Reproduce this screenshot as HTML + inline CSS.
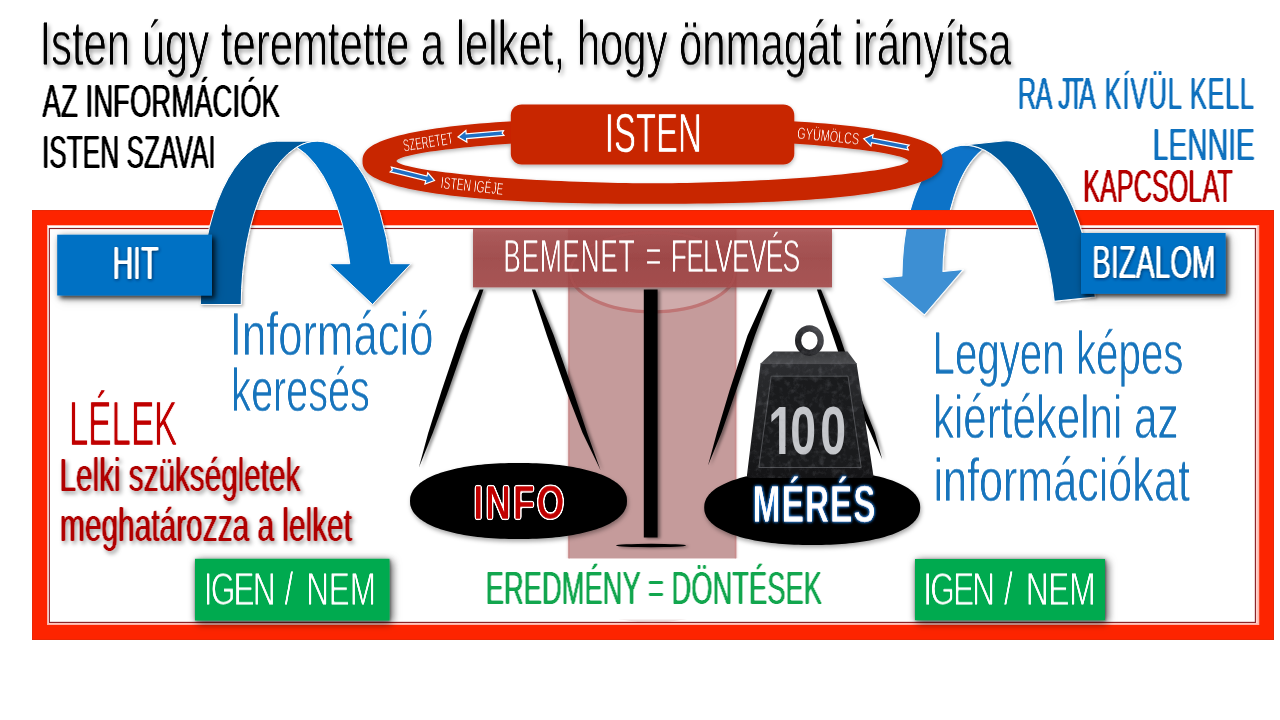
<!DOCTYPE html>
<html lang="hu">
<head>
<meta charset="utf-8">
<title>Isten úgy teremtette a lelket, hogy önmagát irányítsa</title>
<style>
html,body{margin:0;padding:0;background:#fff;}
body{width:1280px;height:720px;overflow:hidden;font-family:"Liberation Sans", sans-serif;}
svg{display:block;will-change:transform;}
text{white-space:pre;}
</style>
</head>
<body>
<svg width="1280" height="720" viewBox="0 0 1280 720" font-family='"Liberation Sans", sans-serif'>
<defs>
<filter id="tf_title" x="-5%" y="-20%" width="110%" height="140%" color-interpolation-filters="sRGB"><feConvolveMatrix in="SourceAlpha" order="1 3" kernelMatrix="0.45 1 0.45" divisor="1" bias="-0.9" preserveAlpha="false" result="a"/><feFlood flood-color="#000"/><feComposite operator="in" in2="a" result="f"/></filter>
<filter id="tf_azinf" x="-5%" y="-20%" width="110%" height="140%" color-interpolation-filters="sRGB"><feConvolveMatrix in="SourceAlpha" order="1 3" kernelMatrix="0.3 1 0.3" divisor="1" bias="-0.6" preserveAlpha="false" result="a"/><feConvolveMatrix in="a" order="3 1" kernelMatrix="0.55 1 0.55" divisor="1" preserveAlpha="false" result="b"/><feFlood flood-color="#000"/><feComposite operator="in" in2="b" result="f"/></filter>
<filter id="tf_szavai" x="-5%" y="-20%" width="110%" height="140%" color-interpolation-filters="sRGB"><feConvolveMatrix in="SourceAlpha" order="1 3" kernelMatrix="0.3 1 0.3" divisor="1" bias="-0.6" preserveAlpha="false" result="a"/><feConvolveMatrix in="a" order="3 1" kernelMatrix="0.55 1 0.55" divisor="1" preserveAlpha="false" result="b"/><feFlood flood-color="#000"/><feComposite operator="in" in2="b" result="f"/></filter>
<filter id="tf_rajta" x="-5%" y="-20%" width="110%" height="140%" color-interpolation-filters="sRGB"><feConvolveMatrix in="SourceAlpha" order="1 3" kernelMatrix="0.3 1 0.3" divisor="1" bias="-0.6" preserveAlpha="false" result="a"/><feConvolveMatrix in="a" order="3 1" kernelMatrix="0.5 1 0.5" divisor="1" preserveAlpha="false" result="b"/><feFlood flood-color="#0f71be"/><feComposite operator="in" in2="b" result="f"/></filter>
<filter id="tf_lennie" x="-5%" y="-20%" width="110%" height="140%" color-interpolation-filters="sRGB"><feConvolveMatrix in="SourceAlpha" order="1 3" kernelMatrix="0.3 1 0.3" divisor="1" bias="-0.6" preserveAlpha="false" result="a"/><feConvolveMatrix in="a" order="3 1" kernelMatrix="0.5 1 0.5" divisor="1" preserveAlpha="false" result="b"/><feFlood flood-color="#0f71be"/><feComposite operator="in" in2="b" result="f"/></filter>
<filter id="tf_kapcs" x="-5%" y="-20%" width="110%" height="140%" color-interpolation-filters="sRGB"><feConvolveMatrix in="SourceAlpha" order="1 3" kernelMatrix="0.3 1 0.3" divisor="1" bias="-0.6" preserveAlpha="false" result="a"/><feConvolveMatrix in="a" order="3 1" kernelMatrix="0.5 1 0.5" divisor="1" preserveAlpha="false" result="b"/><feFlood flood-color="#b40000"/><feComposite operator="in" in2="b" result="f"/></filter>
<filter id="tf_hit" x="-5%" y="-20%" width="110%" height="140%" color-interpolation-filters="sRGB"><feConvolveMatrix in="SourceAlpha" order="1 3" kernelMatrix="0.3 1 0.3" divisor="1" bias="-0.6" preserveAlpha="false" result="a"/><feConvolveMatrix in="a" order="3 1" kernelMatrix="0.55 1 0.55" divisor="1" preserveAlpha="false" result="b"/><feFlood flood-color="#fff"/><feComposite operator="in" in2="b" result="f"/></filter>
<filter id="tf_biz" x="-5%" y="-20%" width="110%" height="140%" color-interpolation-filters="sRGB"><feConvolveMatrix in="SourceAlpha" order="1 3" kernelMatrix="0.3 1 0.3" divisor="1" bias="-0.6" preserveAlpha="false" result="a"/><feConvolveMatrix in="a" order="3 1" kernelMatrix="0.5 1 0.5" divisor="1" preserveAlpha="false" result="b"/><feFlood flood-color="#fff"/><feComposite operator="in" in2="b" result="f"/></filter>
<filter id="tf_isten" x="-5%" y="-20%" width="110%" height="140%" color-interpolation-filters="sRGB"><feConvolveMatrix in="SourceAlpha" order="1 3" kernelMatrix="0.3 1 0.3" divisor="1" bias="-0.6" preserveAlpha="false" result="a"/><feConvolveMatrix in="a" order="3 1" kernelMatrix="0.1 1 0.1" divisor="1" preserveAlpha="false" result="b"/><feFlood flood-color="#fff"/><feComposite operator="in" in2="b" result="f"/></filter>
<filter id="tf_bemenet" x="-5%" y="-20%" width="110%" height="140%" color-interpolation-filters="sRGB"><feConvolveMatrix in="SourceAlpha" order="1 3" kernelMatrix="0.35 1 0.35" divisor="1" bias="-0.7" preserveAlpha="false" result="a"/><feFlood flood-color="#fff"/><feComposite operator="in" in2="a" result="f"/></filter>
<filter id="tf_inf1" x="-5%" y="-20%" width="110%" height="140%" color-interpolation-filters="sRGB"><feConvolveMatrix in="SourceAlpha" order="1 3" kernelMatrix="0.35 1 0.35" divisor="1" bias="-0.7" preserveAlpha="false" result="a"/><feFlood flood-color="#1774bc"/><feComposite operator="in" in2="a" result="f"/></filter>
<filter id="tf_inf2" x="-5%" y="-20%" width="110%" height="140%" color-interpolation-filters="sRGB"><feConvolveMatrix in="SourceAlpha" order="1 3" kernelMatrix="0.35 1 0.35" divisor="1" bias="-0.7" preserveAlpha="false" result="a"/><feFlood flood-color="#1774bc"/><feComposite operator="in" in2="a" result="f"/></filter>
<filter id="tf_lelek" x="-5%" y="-20%" width="110%" height="140%" color-interpolation-filters="sRGB"><feConvolveMatrix in="SourceAlpha" order="1 3" kernelMatrix="0.3 1 0.3" divisor="1" bias="-0.6" preserveAlpha="false" result="a"/><feConvolveMatrix in="a" order="3 1" kernelMatrix="0.1 1 0.1" divisor="1" preserveAlpha="false" result="b"/><feFlood flood-color="#c00000"/><feComposite operator="in" in2="b" result="f"/></filter>
<filter id="tf_lelki1" x="-5%" y="-20%" width="110%" height="140%" color-interpolation-filters="sRGB"><feConvolveMatrix in="SourceAlpha" order="1 3" kernelMatrix="0.3 1 0.3" divisor="1" bias="-0.6" preserveAlpha="false" result="a"/><feConvolveMatrix in="a" order="3 1" kernelMatrix="0.5 1 0.5" divisor="1" preserveAlpha="false" result="b"/><feFlood flood-color="#b00000"/><feComposite operator="in" in2="b" result="f"/></filter>
<filter id="tf_lelki2" x="-5%" y="-20%" width="110%" height="140%" color-interpolation-filters="sRGB"><feConvolveMatrix in="SourceAlpha" order="1 3" kernelMatrix="0.3 1 0.3" divisor="1" bias="-0.6" preserveAlpha="false" result="a"/><feConvolveMatrix in="a" order="3 1" kernelMatrix="0.5 1 0.5" divisor="1" preserveAlpha="false" result="b"/><feFlood flood-color="#b00000"/><feComposite operator="in" in2="b" result="f"/></filter>
<filter id="tf_info" x="-5%" y="-20%" width="110%" height="140%" color-interpolation-filters="sRGB"><feConvolveMatrix in="SourceAlpha" order="1 3" kernelMatrix="0.3 1 0.3" divisor="1" bias="-0.6" preserveAlpha="false" result="a"/><feGaussianBlur in="a" stdDeviation="1.0"/><feComponentTransfer result="oa"><feFuncA type="linear" slope="10" intercept="-0.5"/></feComponentTransfer><feFlood flood-color="#fff"/><feComposite operator="in" in2="oa" result="o"/><feFlood flood-color="#c00000"/><feComposite operator="in" in2="a" result="f"/><feMerge><feMergeNode in="o"/><feMergeNode in="f"/></feMerge></filter>
<filter id="tf_meres" x="-5%" y="-20%" width="110%" height="140%" color-interpolation-filters="sRGB"><feConvolveMatrix in="SourceAlpha" order="1 3" kernelMatrix="0.4 1 0.4" divisor="1" bias="-0.8" preserveAlpha="false" result="a"/><feFlood flood-color="#fff"/><feComposite operator="in" in2="a" result="f"/></filter>
<filter id="tf_igen1" x="-5%" y="-20%" width="110%" height="140%" color-interpolation-filters="sRGB"><feConvolveMatrix in="SourceAlpha" order="1 3" kernelMatrix="0.4 1 0.4" divisor="1" bias="-0.8" preserveAlpha="false" result="a"/><feFlood flood-color="#fff"/><feComposite operator="in" in2="a" result="f"/></filter>
<filter id="tf_igen2" x="-5%" y="-20%" width="110%" height="140%" color-interpolation-filters="sRGB"><feConvolveMatrix in="SourceAlpha" order="1 3" kernelMatrix="0.4 1 0.4" divisor="1" bias="-0.8" preserveAlpha="false" result="a"/><feFlood flood-color="#fff"/><feComposite operator="in" in2="a" result="f"/></filter>
<filter id="tf_ered" x="-5%" y="-20%" width="110%" height="140%" color-interpolation-filters="sRGB"><feConvolveMatrix in="SourceAlpha" order="1 3" kernelMatrix="0.3 1 0.3" divisor="1" bias="-0.6" preserveAlpha="false" result="a"/><feConvolveMatrix in="a" order="3 1" kernelMatrix="0.45 1 0.45" divisor="1" preserveAlpha="false" result="b"/><feFlood flood-color="#12a64e"/><feComposite operator="in" in2="b" result="f"/></filter>
<filter id="tf_leg1" x="-5%" y="-20%" width="110%" height="140%" color-interpolation-filters="sRGB"><feConvolveMatrix in="SourceAlpha" order="1 3" kernelMatrix="0.35 1 0.35" divisor="1" bias="-0.7" preserveAlpha="false" result="a"/><feFlood flood-color="#1774bc"/><feComposite operator="in" in2="a" result="f"/></filter>
<filter id="tf_leg2" x="-5%" y="-20%" width="110%" height="140%" color-interpolation-filters="sRGB"><feConvolveMatrix in="SourceAlpha" order="1 3" kernelMatrix="0.35 1 0.35" divisor="1" bias="-0.7" preserveAlpha="false" result="a"/><feFlood flood-color="#1774bc"/><feComposite operator="in" in2="a" result="f"/></filter>
<filter id="tf_leg3" x="-5%" y="-20%" width="110%" height="140%" color-interpolation-filters="sRGB"><feConvolveMatrix in="SourceAlpha" order="1 3" kernelMatrix="0.35 1 0.35" divisor="1" bias="-0.7" preserveAlpha="false" result="a"/><feFlood flood-color="#1774bc"/><feComposite operator="in" in2="a" result="f"/></filter>
<filter id="rtf" x="-5%" y="-20%" width="110%" height="140%" color-interpolation-filters="sRGB"><feConvolveMatrix in="SourceAlpha" order="1 3" kernelMatrix="0.2 1 0.2" divisor="1" bias="-0.4" preserveAlpha="false" result="a"/><feFlood flood-color="#fff"/><feComposite operator="in" in2="a"/></filter>
<filter id="psh" x="-10%" y="-20%" width="120%" height="150%"><feDropShadow dx="1" dy="2.5" stdDeviation="2" flood-color="#000" flood-opacity="0.35"/></filter>
<filter id="stone" x="-10%" y="-15%" width="120%" height="130%" color-interpolation-filters="sRGB"><feTurbulence type="fractalNoise" baseFrequency="0.16" numOctaves="4" seed="7" result="n"/><feColorMatrix in="n" type="matrix" values="0 0 0 0 0.6  0 0 0 0 0.61  0 0 0 0 0.64  0.3 0.3 0.3 0 -0.43" result="n2"/><feComposite in="n2" in2="SourceAlpha" operator="in" result="n3"/><feMerge><feMergeNode in="SourceGraphic"/><feMergeNode in="n3"/></feMerge></filter>
<filter id="cglow" x="-5%" y="-2%" width="110%" height="104%"><feGaussianBlur stdDeviation="1.4 0"/></filter>
<clipPath id="bemclip"><rect x="473" y="228.8" width="359" height="58.6"/></clipPath>
<clipPath id="canbot"><rect x="560" y="619.5" width="190" height="3"/></clipPath>
<filter id="b1" x="-10%" y="-10%" width="120%" height="120%"><feGaussianBlur stdDeviation="0.6"/></filter>
<filter id="tsh" x="-5%" y="-30%" width="110%" height="170%"><feDropShadow dx="2" dy="3" stdDeviation="2" flood-color="#000" flood-opacity="0.38"/></filter>
<filter id="wsh" x="-20%" y="-30%" width="140%" height="170%"><feDropShadow dx="0.8" dy="1.2" stdDeviation="1.4" flood-color="#001a40" flood-opacity="0.7"/></filter>
<filter id="rsh" x="-10%" y="-30%" width="120%" height="170%"><feDropShadow dx="2" dy="2.8" stdDeviation="2" flood-color="#000" flood-opacity="0.4"/></filter>
<filter id="glow" x="-20%" y="-40%" width="140%" height="180%"><feDropShadow dx="0" dy="0" stdDeviation="1.6" flood-color="#2f8fe8" flood-opacity="1"/><feDropShadow dx="0" dy="0" stdDeviation="1.2" flood-color="#1c6fd0" flood-opacity="1"/></filter>
<filter id="boxsh" x="-20%" y="-30%" width="140%" height="170%"><feDropShadow dx="1.5" dy="1.5" stdDeviation="4" flood-color="#000" flood-opacity="0.28"/><feDropShadow dx="2.8" dy="2.8" stdDeviation="2.2" flood-color="#000" flood-opacity="0.7"/></filter>
<filter id="gsh" x="-20%" y="-30%" width="140%" height="170%"><feDropShadow dx="1.8" dy="1.8" stdDeviation="4.2" flood-color="#000" flood-opacity="0.55"/><feDropShadow dx="0.6" dy="0.8" stdDeviation="1.3" flood-color="#000" flood-opacity="0.55"/></filter>
<filter id="ash" x="-20%" y="-20%" width="140%" height="140%"><feDropShadow dx="1.5" dy="1.5" stdDeviation="1.5" flood-color="#000" flood-opacity="0.3"/></filter>
<filter id="rgsh" x="-10%" y="-30%" width="120%" height="170%"><feDropShadow dx="0" dy="2" stdDeviation="2" flood-color="#000" flood-opacity="0.3"/></filter>
<filter id="ssh" x="-30%" y="-10%" width="160%" height="120%"><feDropShadow dx="2.5" dy="1" stdDeviation="1.6" flood-color="#000" flood-opacity="0.45"/></filter>
<linearGradient id="bemg" x1="0" y1="0" x2="0" y2="1"><stop offset="0" stop-color="#a84e4e"/><stop offset="0.5" stop-color="#9c4040"/><stop offset="1" stop-color="#a24747"/></linearGradient>
<filter id="bsh2" x="-5%" y="-20%" width="110%" height="150%"><feDropShadow dx="0" dy="2.5" stdDeviation="2" flood-color="#000" flood-opacity="0.35"/></filter>
<linearGradient id="lightband" x1="0" y1="0" x2="0" y2="1"><stop offset="0" stop-color="#0a74c6"/><stop offset="0.45" stop-color="#1e80cb"/><stop offset="1" stop-color="#3c90d2"/></linearGradient>
<linearGradient id="wfront" x1="0" y1="0" x2="0" y2="1"><stop offset="0" stop-color="#2c2d30"/><stop offset="0.5" stop-color="#1f2022"/><stop offset="1" stop-color="#141416"/></linearGradient>
<linearGradient id="wtop" x1="0" y1="0" x2="0" y2="1"><stop offset="0" stop-color="#37383a"/><stop offset="1" stop-color="#4c4d50"/></linearGradient>
<linearGradient id="wring" x1="1" y1="0" x2="0" y2="1"><stop offset="0" stop-color="#505155"/><stop offset="0.5" stop-color="#2c2d30"/><stop offset="1" stop-color="#1c1c1f"/></linearGradient>
</defs>
<rect width="1280" height="720" fill="#fff"/>

<!-- right arrow light band (behind the frame) -->
<g filter="url(#ash)">
<g transform="translate(980.7 226.2) rotate(-6) scale(-1 1) translate(-106.5 -82.4)">
<path d="M171.80 164.80 L128.20 123.60 L148.80 123.60 A75.60 164.80 0 0 0 96.20 6.24 A75.60 164.80 0 0 1 116.80 0 A75.60 164.80 0 0 1 190.00 123.60 L210.60 123.60 Z" fill="#0873c8" stroke="#fff" stroke-width="1" stroke-linejoin="round"/>
</g>
</g>

<!-- frame -->
<path fill-rule="evenodd" d="M32 210 H1274 V640 H32 Z M47.2 225.1 V625 H1259.2 V225.1 Z" fill="#d42a0a"/>
<path fill-rule="evenodd" d="M32.5 210.5 H1273.5 V639.5 H32.5 Z M47.2 225.1 V625 H1259.2 V225.1 Z" fill="#fd2400"/>
<path fill-rule="evenodd" d="M47.2 225.1 H1259.2 V625 H47.2 Z M49.3 228.4 V622.5 H1255.5 V228.4 Z" fill="#ffb3a8"/>
<path fill-rule="evenodd" d="M47.9 225.8 H1257.6 V623.6 H47.9 Z M49.3 228.4 V622.5 H1255.5 V228.4 Z" fill="#fff" fill-opacity="0.45"/>
<path d="M48 226 H1256.8 V228 H50.2 V623 H48 Z" fill="#fff"/>
<rect x="49.35" y="228.5" width="1206.05" height="393.9" fill="#fff" fill-opacity="0.2" stroke="#8c2024" stroke-width="1.15"/>

<!-- can / column -->
<rect x="568.4" y="229" width="167.8" height="329.3" fill="#d9a9a9" filter="url(#cglow)"/>
<rect x="568.4" y="229" width="167.8" height="329.3" fill="#c59b9b"/>
<rect x="568.4" y="229" width="1.5" height="329.3" fill="#c98c8c"/>
<rect x="734.7" y="229" width="1.5" height="329.3" fill="#c98c8c"/>
<ellipse cx="652.6" cy="272.2" rx="82.2" ry="39.6" fill="#cfabab" stroke="#bf7474" stroke-width="3.2" filter="url(#b1)"/>

<ellipse cx="652.6" cy="583" rx="83" ry="39.5" fill="#c59b9b" fill-opacity="0.3" clip-path="url(#canbot)"/>
<!-- scale -->
<g filter="url(#ssh)">
<rect x="643.8" y="289.5" width="13.8" height="248" fill="#000"/>
<ellipse cx="651" cy="545.5" rx="35" ry="1.7" fill="#000"/>
<path d="M479.5 289.5 L460.2 335.5 L441.5 391.0 L428.3 432.8 L418.9 467.5 L432.9 432.8 L448.2 391.0 L467.6 335.5 L483.5 289.5 Z" fill="#000"/>
<path d="M531.9 289.5 L546.9 335.5 L566.3 391.0 L582.5 432.8 L600.6 470.3 L587.1 432.8 L573.2 391.0 L553.8 335.5 L535.2 289.5 Z" fill="#000"/>
<path d="M768.3 289.5 L747.5 335.5 L729.4 391.0 L716.9 432.8 L708.0 465.5 L721.5 432.8 L736.0 391.0 L754.9 335.5 L772.4 289.5 Z" fill="#000"/>
<path d="M816.9 289.5 L832.7 335.5 L851.5 391.0 L870.5 432.8 L882.2 459.2 L874.9 432.8 L858.2 391.0 L839.6 335.5 L821.0 289.5 Z" fill="#000"/>
</g>
<path d="M627.0 501.0 L626.9 502.8 L626.8 504.4 L626.5 505.9 L626.0 507.3 L625.5 508.7 L624.8 510.1 L624.1 511.5 L623.2 512.8 L622.2 514.1 L621.0 515.3 L619.8 516.6 L618.4 517.8 L617.0 519.0 L615.4 520.1 L613.7 521.2 L611.9 522.3 L610.0 523.4 L608.0 524.4 L605.9 525.4 L603.7 526.4 L601.3 527.4 L598.9 528.3 L596.4 529.2 L593.8 530.0 L591.1 530.8 L588.3 531.6 L585.4 532.3 L582.5 533.0 L579.4 533.7 L576.3 534.3 L573.1 534.9 L569.8 535.5 L566.4 536.0 L562.9 536.5 L559.4 536.9 L555.8 537.3 L552.1 537.7 L548.4 538.0 L544.5 538.2 L540.6 538.5 L536.6 538.7 L532.4 538.8 L528.1 538.9 L523.6 539.0 L518.5 539.0 L513.4 539.0 L508.9 538.9 L504.6 538.8 L500.4 538.7 L496.4 538.5 L492.5 538.2 L488.6 538.0 L484.9 537.7 L481.2 537.3 L477.6 536.9 L474.1 536.5 L470.6 536.0 L467.2 535.5 L463.9 534.9 L460.7 534.3 L457.6 533.7 L454.5 533.0 L451.6 532.3 L448.7 531.6 L445.9 530.8 L443.2 530.0 L440.6 529.2 L438.1 528.3 L435.7 527.4 L433.3 526.4 L431.1 525.4 L429.0 524.4 L427.0 523.4 L425.1 522.3 L423.3 521.2 L421.6 520.1 L420.0 519.0 L418.6 517.8 L417.2 516.6 L416.0 515.3 L414.8 514.1 L413.8 512.8 L412.9 511.5 L412.2 510.1 L411.5 508.7 L411.0 507.3 L410.5 505.9 L410.2 504.4 L410.1 502.8 L410.0 501.0 L410.1 499.2 L410.2 497.6 L410.5 496.1 L411.0 494.7 L411.5 493.3 L412.2 491.9 L412.9 490.5 L413.8 489.2 L414.8 487.9 L416.0 486.7 L417.2 485.4 L418.6 484.2 L420.0 483.0 L421.6 481.9 L423.3 480.8 L425.1 479.7 L427.0 478.6 L429.0 477.6 L431.1 476.6 L433.3 475.6 L435.7 474.6 L438.1 473.7 L440.6 472.8 L443.2 472.0 L445.9 471.2 L448.7 470.4 L451.6 469.7 L454.5 469.0 L457.6 468.3 L460.7 467.7 L463.9 467.1 L467.2 466.5 L470.6 466.0 L474.1 465.5 L477.6 465.1 L481.2 464.7 L484.9 464.3 L488.6 464.0 L492.5 463.8 L496.4 463.5 L500.4 463.3 L504.6 463.2 L508.9 463.1 L513.4 463.0 L518.5 463.0 L523.6 463.0 L528.1 463.1 L532.4 463.2 L536.6 463.3 L540.6 463.5 L544.5 463.8 L548.4 464.0 L552.1 464.3 L555.8 464.7 L559.4 465.1 L562.9 465.5 L566.4 466.0 L569.8 466.5 L573.1 467.1 L576.3 467.7 L579.4 468.3 L582.5 469.0 L585.4 469.7 L588.3 470.4 L591.1 471.2 L593.8 472.0 L596.4 472.8 L598.9 473.7 L601.3 474.6 L603.7 475.6 L605.9 476.6 L608.0 477.6 L610.0 478.6 L611.9 479.7 L613.7 480.8 L615.4 481.9 L617.0 483.0 L618.4 484.2 L619.8 485.4 L621.0 486.7 L622.2 487.9 L623.2 489.2 L624.1 490.5 L624.8 491.9 L625.5 493.3 L626.0 494.7 L626.5 496.1 L626.8 497.6 L626.9 499.2 Z" fill="#000" filter="url(#psh)"/>
<path d="M920.2 507.5 L920.1 509.3 L920.0 510.8 L919.7 512.3 L919.2 513.7 L918.7 515.1 L918.1 516.5 L917.3 517.8 L916.4 519.1 L915.4 520.4 L914.3 521.6 L913.0 522.9 L911.7 524.1 L910.2 525.2 L908.6 526.4 L907.0 527.5 L905.2 528.6 L903.3 529.6 L901.3 530.6 L899.2 531.6 L897.0 532.6 L894.7 533.5 L892.3 534.4 L889.7 535.3 L887.2 536.1 L884.5 536.9 L881.7 537.7 L878.8 538.4 L875.9 539.1 L872.8 539.8 L869.7 540.4 L866.5 541.0 L863.2 541.5 L859.9 542.0 L856.4 542.5 L852.9 542.9 L849.3 543.3 L845.7 543.7 L841.9 544.0 L838.1 544.3 L834.2 544.5 L830.2 544.7 L826.1 544.8 L821.8 544.9 L817.3 545.0 L812.2 545.0 L807.1 545.0 L802.6 544.9 L798.3 544.8 L794.2 544.7 L790.2 544.5 L786.3 544.3 L782.5 544.0 L778.7 543.7 L775.1 543.3 L771.5 542.9 L768.0 542.5 L764.5 542.0 L761.2 541.5 L757.9 541.0 L754.7 540.4 L751.6 539.8 L748.5 539.1 L745.6 538.4 L742.7 537.7 L739.9 536.9 L737.2 536.1 L734.7 535.3 L732.1 534.4 L729.7 533.5 L727.4 532.6 L725.2 531.6 L723.1 530.6 L721.1 529.6 L719.2 528.6 L717.4 527.5 L715.8 526.4 L714.2 525.2 L712.7 524.1 L711.4 522.9 L710.1 521.6 L709.0 520.4 L708.0 519.1 L707.1 517.8 L706.3 516.5 L705.7 515.1 L705.2 513.7 L704.7 512.3 L704.4 510.8 L704.3 509.3 L704.2 507.5 L704.3 505.7 L704.4 504.2 L704.7 502.7 L705.2 501.3 L705.7 499.9 L706.3 498.5 L707.1 497.2 L708.0 495.9 L709.0 494.6 L710.1 493.4 L711.4 492.1 L712.7 490.9 L714.2 489.8 L715.8 488.6 L717.4 487.5 L719.2 486.4 L721.1 485.4 L723.1 484.4 L725.2 483.4 L727.4 482.4 L729.7 481.5 L732.1 480.6 L734.7 479.7 L737.2 478.9 L739.9 478.1 L742.7 477.3 L745.6 476.6 L748.5 475.9 L751.6 475.2 L754.7 474.6 L757.9 474.0 L761.2 473.5 L764.5 473.0 L768.0 472.5 L771.5 472.1 L775.1 471.7 L778.7 471.3 L782.5 471.0 L786.3 470.7 L790.2 470.5 L794.2 470.3 L798.3 470.2 L802.6 470.1 L807.1 470.0 L812.2 470.0 L817.3 470.0 L821.8 470.1 L826.1 470.2 L830.2 470.3 L834.2 470.5 L838.1 470.7 L841.9 471.0 L845.7 471.3 L849.3 471.7 L852.9 472.1 L856.4 472.5 L859.9 473.0 L863.2 473.5 L866.5 474.0 L869.7 474.6 L872.8 475.2 L875.9 475.9 L878.8 476.6 L881.7 477.3 L884.5 478.1 L887.2 478.9 L889.7 479.7 L892.3 480.6 L894.7 481.5 L897.0 482.4 L899.2 483.4 L901.3 484.4 L903.3 485.4 L905.2 486.4 L907.0 487.5 L908.6 488.6 L910.2 489.8 L911.7 490.9 L913.0 492.1 L914.3 493.4 L915.4 494.6 L916.4 495.9 L917.3 497.2 L918.1 498.5 L918.7 499.9 L919.2 501.3 L919.7 502.7 L920.0 504.2 L920.1 505.7 Z" fill="#000" filter="url(#psh)"/>

<!-- weight -->
<g filter="url(#stone)">
<path d="M760.6 363.6 L773.4 351.5 L847.5 351.5 L856.6 363.6 Z" fill="url(#wtop)"/>
<path d="M760.6 363.6 L856.6 363.6 L873.3 475 Q873.6 478 870 478 L750.5 478 Q746.6 478 747 475 Z" fill="url(#wfront)"/>
<path d="M760.6 363.6 L856.6 363.6" stroke="#4a4b4f" stroke-width="1" fill="none"/>
<path d="M771.2 376.2 L848 376.2 L861.2 467.5 L758.8 467.5 Z" fill="#1a1b1d" stroke="#5c5d61" stroke-width="0.8"/>
<ellipse cx="809.4" cy="340.6" rx="11.3" ry="12.2" fill="none" stroke="url(#wring)" stroke-width="6.2"/>
<text transform="translate(0 453.75) scale(0.673 1)" x="1141.57 1174.09 1218.96" y="0" font-size="69.04" font-weight="bold" fill="#c6c8cc">100</text><rect x="770.61" y="446.20" width="8.52" height="8.35" fill="#1a1b1d"/><rect x="785.50" y="446.20" width="7.93" height="8.35" fill="#1a1b1d"/>
</g>

<!-- bemenet box -->
<rect x="473" y="228.8" width="359" height="58.6" fill="url(#bemg)" fill-opacity="0.88" filter="url(#bsh2)"/>
<ellipse cx="652.6" cy="272.2" rx="82.2" ry="39.6" fill="none" stroke="#b05a5a" stroke-opacity="0.4" stroke-width="2.6" filter="url(#b1)" clip-path="url(#bemclip)"/>

<!-- left arrow -->
<g filter="url(#ash)">
<g transform="translate(200.4 141.2)">
<path d="M116.71 0 A75.88 163.30 0 0 0 40.83 163.30 L0 163.30 A75.88 163.30 0 0 1 75.88 0 Z" fill="#045a9c" stroke="#fff" stroke-width="1" stroke-linejoin="round"/>
<path d="M172.18 163.30 L128.94 122.48 L149.35 122.48 A75.88 163.30 0 0 0 96.29 6.02 A75.88 163.30 0 0 1 116.71 0 A75.88 163.30 0 0 1 190.18 122.48 L210.59 122.48 Z" fill="#0571c4" stroke="#fff" stroke-width="1" stroke-linejoin="round"/>
</g>
</g>
<rect x="57.2" y="234.7" width="154.8" height="60.8" fill="#0571c4" filter="url(#boxsh)"/>

<!-- right arrow dark band -->
<g filter="url(#ash)">
<g transform="translate(980.7 226.2) rotate(-6) scale(-1 1) translate(-106.5 -82.4)">
<path d="M116.80 0 A75.60 164.80 0 0 0 41.20 164.80 L0 164.80 A75.60 164.80 0 0 1 75.60 0 Z" fill="#045a9c" stroke="#fff" stroke-width="1" stroke-linejoin="round"/>
</g>
</g>
<rect x="1081" y="233" width="144.6" height="60.8" fill="#0571c4" filter="url(#boxsh)"/>

<!-- ring -->
<g filter="url(#rgsh)">
<path fill-rule="evenodd" fill="#c82506" d="M942.5 161.0 L942.4 163.8 L941.9 165.9 L941.2 167.8 L940.2 169.6 L938.9 171.3 L937.3 172.9 L935.4 174.4 L933.3 175.9 L930.9 177.4 L928.1 178.8 L925.1 180.2 L921.9 181.5 L918.3 182.8 L914.5 184.1 L910.4 185.3 L906.0 186.5 L901.3 187.6 L896.4 188.7 L891.2 189.8 L885.8 190.8 L880.1 191.8 L874.1 192.8 L867.9 193.7 L861.4 194.6 L854.7 195.4 L847.7 196.2 L840.4 197.0 L832.9 197.7 L825.2 198.4 L817.2 199.1 L808.9 199.7 L800.4 200.2 L791.6 200.8 L782.6 201.2 L773.3 201.7 L763.7 202.1 L753.8 202.4 L743.5 202.8 L733.0 203.0 L722.0 203.3 L710.5 203.5 L698.4 203.6 L685.5 203.7 L671.2 203.8 L652.5 203.8 L633.8 203.8 L619.5 203.7 L606.6 203.6 L594.5 203.5 L583.0 203.3 L572.0 203.0 L561.5 202.8 L551.2 202.4 L541.3 202.1 L531.7 201.7 L522.4 201.2 L513.4 200.8 L504.6 200.2 L496.1 199.7 L487.8 199.1 L479.8 198.4 L472.1 197.7 L464.6 197.0 L457.3 196.2 L450.3 195.4 L443.6 194.6 L437.1 193.7 L430.9 192.8 L424.9 191.8 L419.2 190.8 L413.8 189.8 L408.6 188.7 L403.7 187.6 L399.0 186.5 L394.6 185.3 L390.5 184.1 L386.7 182.8 L383.1 181.5 L379.9 180.2 L376.9 178.8 L374.1 177.4 L371.7 175.9 L369.6 174.4 L367.7 172.9 L366.1 171.3 L364.8 169.6 L363.8 167.8 L363.1 165.9 L362.6 163.8 L362.5 161.0 L362.6 158.2 L363.1 156.1 L363.8 154.2 L364.8 152.4 L366.1 150.7 L367.7 149.1 L369.6 147.6 L371.7 146.1 L374.1 144.6 L376.9 143.2 L379.9 141.8 L383.1 140.5 L386.7 139.2 L390.5 137.9 L394.6 136.7 L399.0 135.5 L403.7 134.4 L408.6 133.3 L413.8 132.2 L419.2 131.2 L424.9 130.2 L430.9 129.2 L437.1 128.3 L443.6 127.4 L450.3 126.6 L457.3 125.8 L464.6 125.0 L472.1 124.3 L479.8 123.6 L487.8 122.9 L496.1 122.3 L504.6 121.8 L513.4 121.2 L522.4 120.8 L531.7 120.3 L541.3 119.9 L551.2 119.6 L561.5 119.2 L572.0 119.0 L583.0 118.7 L594.5 118.5 L606.6 118.4 L619.5 118.3 L633.8 118.2 L652.5 118.2 L671.2 118.2 L685.5 118.3 L698.4 118.4 L710.5 118.5 L722.0 118.7 L733.0 119.0 L743.5 119.2 L753.8 119.6 L763.7 119.9 L773.3 120.3 L782.6 120.8 L791.6 121.2 L800.4 121.8 L808.9 122.3 L817.2 122.9 L825.2 123.6 L832.9 124.3 L840.4 125.0 L847.7 125.8 L854.7 126.6 L861.4 127.4 L867.9 128.3 L874.1 129.2 L880.1 130.2 L885.8 131.2 L891.2 132.2 L896.4 133.3 L901.3 134.4 L906.0 135.5 L910.4 136.7 L914.5 137.9 L918.3 139.2 L921.9 140.5 L925.1 141.8 L928.1 143.2 L930.9 144.6 L933.3 146.1 L935.4 147.6 L937.3 149.1 L938.9 150.7 L940.2 152.4 L941.2 154.2 L941.9 156.1 L942.4 158.2 Z M908.3 160.5 L907.8 159.9 L906.9 159.3 L905.7 158.7 L904.1 158.0 L902.1 157.3 L899.8 156.6 L897.2 155.9 L894.2 155.2 L890.9 154.5 L887.3 153.7 L883.4 153.0 L879.1 152.3 L874.6 151.6 L869.7 150.9 L864.5 150.2 L859.1 149.5 L853.4 148.9 L847.5 148.2 L841.3 147.5 L834.8 146.9 L828.2 146.3 L821.3 145.7 L814.2 145.1 L807.0 144.6 L799.6 144.0 L792.0 143.5 L784.2 143.0 L776.4 142.5 L768.4 142.1 L760.4 141.7 L752.3 141.3 L744.1 140.9 L735.8 140.5 L727.6 140.2 L719.4 139.9 L711.2 139.7 L703.1 139.5 L695.0 139.3 L687.1 139.1 L679.4 138.9 L671.9 138.8 L664.7 138.8 L658.0 138.7 L652.5 138.7 L647.0 138.7 L640.3 138.8 L633.1 138.8 L625.6 138.9 L617.9 139.1 L610.0 139.3 L601.9 139.5 L593.8 139.7 L585.6 139.9 L577.4 140.2 L569.2 140.5 L560.9 140.9 L552.7 141.3 L544.6 141.7 L536.6 142.1 L528.6 142.5 L520.8 143.0 L513.0 143.5 L505.4 144.0 L498.0 144.6 L490.8 145.1 L483.7 145.7 L476.8 146.3 L470.2 146.9 L463.7 147.5 L457.5 148.2 L451.6 148.9 L445.9 149.5 L440.5 150.2 L435.3 150.9 L430.4 151.6 L425.9 152.3 L421.6 153.0 L417.7 153.7 L414.1 154.5 L410.8 155.2 L407.8 155.9 L405.2 156.6 L402.9 157.3 L400.9 158.0 L399.3 158.7 L398.1 159.3 L397.2 159.9 L396.7 160.5 L396.5 161.0 L396.7 161.5 L397.2 162.1 L398.1 162.7 L399.3 163.3 L400.9 164.0 L402.9 164.7 L405.2 165.4 L407.8 166.1 L410.8 166.8 L414.1 167.5 L417.7 168.3 L421.6 169.0 L425.9 169.7 L430.4 170.4 L435.3 171.1 L440.5 171.8 L445.9 172.5 L451.6 173.1 L457.5 173.8 L463.7 174.5 L470.2 175.1 L476.8 175.7 L483.7 176.3 L490.8 176.9 L498.0 177.4 L505.4 178.0 L513.0 178.5 L520.8 179.0 L528.6 179.5 L536.6 179.9 L544.6 180.3 L552.7 180.7 L560.9 181.1 L569.2 181.5 L577.4 181.8 L585.6 182.1 L593.8 182.3 L601.9 182.5 L610.0 182.7 L617.9 182.9 L625.6 183.1 L633.1 183.2 L640.3 183.2 L647.0 183.3 L652.5 183.3 L658.0 183.3 L664.7 183.2 L671.9 183.2 L679.4 183.1 L687.1 182.9 L695.0 182.7 L703.1 182.5 L711.2 182.3 L719.4 182.1 L727.6 181.8 L735.8 181.5 L744.1 181.1 L752.3 180.7 L760.4 180.3 L768.4 179.9 L776.4 179.5 L784.2 179.0 L792.0 178.5 L799.6 178.0 L807.0 177.4 L814.2 176.9 L821.3 176.3 L828.2 175.7 L834.8 175.1 L841.3 174.5 L847.5 173.8 L853.4 173.1 L859.1 172.5 L864.5 171.8 L869.7 171.1 L874.6 170.4 L879.1 169.7 L883.4 169.0 L887.3 168.3 L890.9 167.5 L894.2 166.8 L897.2 166.1 L899.8 165.4 L902.1 164.7 L904.1 164.0 L905.7 163.3 L906.9 162.7 L907.8 162.1 L908.3 161.5 L908.5 161.0 Z"/>
<rect x="510.8" y="104.4" width="283.5" height="60" rx="11" ry="11" fill="#c82506"/>
</g>
<path transform="translate(503.75 133) rotate(175.00)" d="M0 -2.4 L37.52 -2.4 L37.52 -5.8 L45.92 0 L37.52 5.8 L37.52 2.4 L0 2.4 L1.6 0 Z" fill="#1f6fc4" stroke="#fff" stroke-width="1.2" stroke-linejoin="miter"/>
<path transform="translate(390.75 169.5) rotate(14.11)" d="M0 -2.4 L36.71 -2.4 L36.71 -5.8 L45.11 0 L36.71 5.8 L36.71 2.4 L0 2.4 L1.6 0 Z" fill="#1f6fc4" stroke="#fff" stroke-width="1.2" stroke-linejoin="miter"/>
<path transform="translate(908.75 147.5) rotate(-169.00)" d="M0 -2.4 L37.44 -2.4 L37.44 -5.8 L45.84 0 L37.44 5.8 L37.44 2.4 L0 2.4 L1.6 0 Z" fill="#1f6fc4" stroke="#fff" stroke-width="1.2" stroke-linejoin="miter"/>
<g filter="url(#rtf)"><text transform="translate(403.9 151.6) rotate(-8.98)" font-size="16.86" fill="#fff" textLength="50.62" lengthAdjust="spacingAndGlyphs">SZERETET</text></g>
<g filter="url(#rtf)"><text transform="translate(440.2 188.1) rotate(6.19)" font-size="16.86" fill="#fff" textLength="63.07" lengthAdjust="spacingAndGlyphs">ISTEN IGÉJE</text></g>
<g filter="url(#rtf)"><text transform="translate(796.8 138.6) rotate(5.55)" font-size="16.57" fill="#fff" textLength="62.09" lengthAdjust="spacingAndGlyphs">GYÜMÖLCS</text></g>

<!-- green boxes -->
<rect x="195" y="558.8" width="194.5" height="61.7" fill="#00aa50" filter="url(#gsh)"/>
<rect x="915" y="559" width="190" height="61.2" fill="#00aa50" filter="url(#gsh)"/>

<g filter="url(#tsh)"><g filter="url(#tf_title)"><text transform="translate(39.42 65.05) scale(0.6743 1)" font-size="62.07" fill="#000">Isten úgy teremtette a lelket, hogy önmagát irányítsa</text></g></g>
<g filter="url(#tf_azinf)"><text transform="translate(42.60 116.90) scale(0.5966 1)" font-size="46.22" fill="#000">AZ INFORMÁCIÓK</text></g>
<g filter="url(#tf_szavai)"><text transform="translate(42.09 168.30) scale(0.5671 1)" font-size="46.22" fill="#000">ISTEN SZAVAI</text></g>
<g filter="url(#tf_rajta)"><text transform="translate(0 109.05) scale(0.5614 1)" font-size="45.2" fill="#0f71be"><tspan x="1813.42" letter-spacing="-1.752">RA</tspan><tspan x="1884.46" letter-spacing="-4.692">JTA </tspan><tspan x="1967.49" letter-spacing="1.800">KÍVÜL </tspan><tspan x="2119.61" letter-spacing="1.312">KELL</tspan></text></g>
<g filter="url(#tf_lennie)"><text transform="translate(1152.86 159.80) scale(0.6244 1)" font-size="45.2" fill="#0f71be">LENNIE</text></g>
<g filter="url(#tf_kapcs)"><text transform="translate(1083.14 201.55) scale(0.5499 1)" font-size="45.93" fill="#b40000">KAPCSOLAT</text></g>
<g filter="url(#wsh)"><g filter="url(#tf_hit)"><text transform="translate(112.40 279.05) scale(0.6277 1)" font-size="45.57" fill="#fff">HIT</text></g></g>
<g filter="url(#wsh)"><g filter="url(#tf_biz)"><text transform="translate(1092.31 277.55) scale(0.6113 1)" font-size="45.93" fill="#fff">BIZALOM</text></g></g>
<g filter="url(#tf_isten)"><text transform="translate(604.83 151.55) scale(0.5938 1)" font-size="55.38" fill="#fff">ISTEN</text></g>
<g filter="url(#tf_bemenet)"><text transform="translate(0 272.35) scale(0.5816 1)" font-size="45.71" fill="#fff"><tspan x="865.46" letter-spacing="0.822">BEMENET </tspan><tspan x="1110.24" letter-spacing="0.000">= </tspan><tspan x="1153.27" letter-spacing="-1.432">FELVEVÉS</tspan></text></g>
<g filter="url(#tf_inf1)"><text transform="translate(229.85 355.35) scale(0.7127 1)" font-size="61.19" fill="#1774bc">Információ</text></g>
<g filter="url(#tf_inf2)"><text transform="translate(231.37 411.15) scale(0.6462 1)" font-size="61.19" fill="#1774bc">keresés</text></g>
<g filter="url(#tf_lelek)"><text transform="translate(69.00 444.80) scale(0.5593 1)" font-size="62.21" fill="#c00000">LÉLEK</text></g>
<g filter="url(#rsh)"><g filter="url(#tf_lelki1)"><text transform="translate(59.56 491.10) scale(0.6363 1)" font-size="46.66" fill="#b00000">Lelki szükségletek</text></g></g>
<g filter="url(#rsh)"><g filter="url(#tf_lelki2)"><text transform="translate(60.03 541.00) scale(0.6398 1)" font-size="46.66" fill="#b00000">meghatározza a lelket</text></g></g>
<g filter="url(#tf_info)"><text transform="translate(473.14 519.10) scale(0.7252 1)" font-size="48.84" fill="#c00000" font-weight="bold" letter-spacing="3">INFO</text></g>
<g filter="url(#glow)"><g filter="url(#tf_meres)"><text transform="translate(752.85 522.00) scale(0.6420 1)" font-size="52.04" fill="#fff" font-weight="bold" letter-spacing="1.5">MÉRÉS</text></g></g>
<g filter="url(#tf_igen1)"><text transform="translate(0 604.65) scale(0.6775 1)" font-size="46.59" fill="#fff"><tspan x="300.83" letter-spacing="-2.632">IGEN </tspan><tspan x="419.76" letter-spacing="0.000">/ </tspan><tspan x="451.87" letter-spacing="-0.253">NEM</tspan></text></g>
<g filter="url(#tf_igen2)"><text transform="translate(0 604.65) scale(0.6780 1)" font-size="46.59" fill="#fff"><tspan x="1361.83" letter-spacing="-2.654">IGEN </tspan><tspan x="1480.68" letter-spacing="0.000">/ </tspan><tspan x="1512.77" letter-spacing="-0.212">NEM</tspan></text></g>
<g filter="url(#tf_ered)"><text transform="translate(485.72 603.90) scale(0.5959 1)" font-size="45.93" fill="#12a64e">EREDMÉNY = DÖNTÉSEK</text></g>
<g filter="url(#tf_leg1)"><text transform="translate(932.46 374.35) scale(0.6590 1)" font-size="61.19" fill="#1774bc">Legyen képes</text></g>
<g filter="url(#tf_leg2)"><text transform="translate(932.90 437.55) scale(0.6877 1)" font-size="61.19" fill="#1774bc">kiértékelni az</text></g>
<g filter="url(#tf_leg3)"><text transform="translate(933.43 501.15) scale(0.7049 1)" font-size="61.19" fill="#1774bc">információkat</text></g>
</svg>
</body>
</html>
